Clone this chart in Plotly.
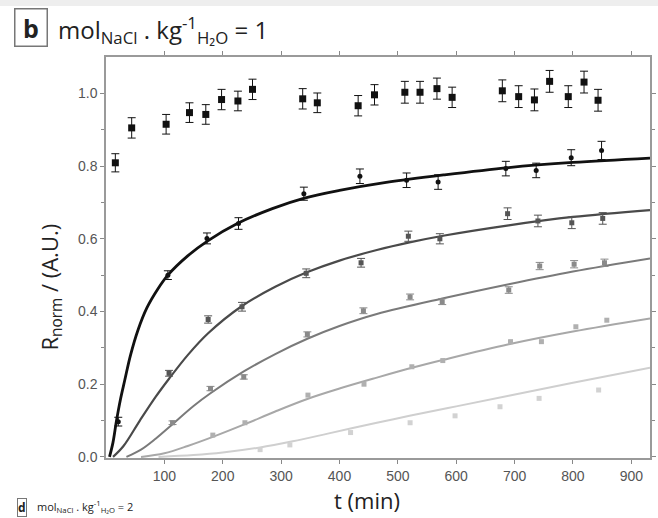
import plotly.graph_objects as go

# ---- data ----
t1 = [16, 44, 103, 143, 171, 198, 226, 251, 337, 362, 432, 460, 512, 538, 567, 593, 679, 707, 734, 760, 792, 819, 843]
v1 = [0.809, 0.905, 0.915, 0.947, 0.942, 0.983, 0.979, 1.011, 0.985, 0.974, 0.966, 0.996, 1.003, 1.003, 1.013, 0.989, 1.007, 0.991, 0.982, 1.033, 0.991, 1.031, 0.981]
e1 = [0.025, 0.028, 0.027, 0.027, 0.027, 0.028, 0.027, 0.028, 0.028, 0.027, 0.028, 0.028, 0.03, 0.03, 0.029, 0.028, 0.03, 0.03, 0.03, 0.03, 0.03, 0.03, 0.03]

t2 = [21, 106, 173, 227, 339, 435, 515, 569, 685, 737, 797, 849]
v2 = [0.097, 0.5, 0.601, 0.642, 0.724, 0.772, 0.761, 0.756, 0.793, 0.788, 0.823, 0.843]
e2 = [0.012, 0.012, 0.015, 0.016, 0.018, 0.02, 0.02, 0.02, 0.02, 0.02, 0.022, 0.025]

t3 = [108, 175, 233, 343, 437, 518, 572, 688, 740, 798, 851]
v3 = [0.23, 0.378, 0.413, 0.505, 0.534, 0.607, 0.6, 0.669, 0.649, 0.644, 0.656]
e3 = [0.008, 0.01, 0.012, 0.012, 0.012, 0.014, 0.014, 0.016, 0.016, 0.016, 0.016]

t4 = [114, 179, 236, 345, 441, 521, 576, 690, 743, 802, 854]
v4 = [0.094, 0.188, 0.22, 0.337, 0.402, 0.44, 0.427, 0.459, 0.525, 0.53, 0.534]
e4 = [0.005, 0.006, 0.006, 0.007, 0.008, 0.008, 0.008, 0.009, 0.01, 0.01, 0.01]

t5 = [183, 238, 346, 442, 524, 577, 693, 746, 805, 858]
v5 = [0.06, 0.094, 0.17, 0.2, 0.248, 0.265, 0.317, 0.317, 0.358, 0.376]

t6 = [264, 315, 419, 521, 598, 675, 742, 844]
v6 = [0.02, 0.033, 0.067, 0.094, 0.113, 0.138, 0.161, 0.184]

# fitted curves
c2t = [6, 12, 18, 25, 32, 42, 55, 70, 88, 106, 140, 175, 225, 285, 340, 400, 480, 580, 690, 800, 932]
c2v = [0, 0.04, 0.1, 0.16, 0.21, 0.28, 0.35, 0.41, 0.46, 0.5, 0.553, 0.595, 0.642, 0.683, 0.712, 0.733, 0.755, 0.776, 0.796, 0.81, 0.822]
c3t = [12, 30, 58, 85, 108, 140, 175, 233, 290, 343, 400, 464, 520, 580, 690, 800, 932]
c3v = [0, 0.03, 0.10, 0.165, 0.215, 0.28, 0.34, 0.415, 0.468, 0.507, 0.54, 0.569, 0.59, 0.609, 0.637, 0.66, 0.679]
c4t = [35, 60, 85, 114, 150, 179, 236, 290, 345, 400, 464, 580, 690, 800, 932]
c4v = [0, 0.02, 0.05, 0.09, 0.14, 0.175, 0.235, 0.283, 0.325, 0.36, 0.393, 0.437, 0.475, 0.51, 0.546]
c5t = [60, 100, 140, 183, 238, 290, 346, 400, 464, 524, 580, 690, 800, 932]
c5v = [0, 0.01, 0.03, 0.055, 0.09, 0.125, 0.16, 0.188, 0.218, 0.245, 0.268, 0.31, 0.345, 0.381]
c6t = [90, 150, 200, 264, 320, 380, 464, 520, 600, 690, 800, 932]
c6v = [0, 0.005, 0.012, 0.026, 0.043, 0.064, 0.094, 0.113, 0.139, 0.168, 0.204, 0.245]

xticks = [100, 200, 300, 400, 500, 600, 700, 800, 900]
yticks = [0.0, 0.2, 0.4, 0.6, 0.8, 1.0]

# ---- figure ----
fig = go.Figure()

curves = [(c6t, c6v, "#cfcfcf", 2), (c5t, c5v, "#a8a8a8", 2), (c4t, c4v, "#7a7a7a", 2),
          (c3t, c3v, "#4a4a4a", 2.2), (c2t, c2v, "#111111", 2.8)]
for ct, cv, col, w in curves:
    fig.add_trace(go.Scatter(x=ct, y=cv, mode="lines", line=dict(color=col, width=w, shape="spline", smoothing=1.0),
                             showlegend=False, hoverinfo="skip"))

def pts(t, v, col, size, sym, err=None):
    kw = {}
    if err is not None:
        kw["error_y"] = dict(type="data", array=err, visible=True, color=col, thickness=1, width=4)
    fig.add_trace(go.Scatter(x=t, y=v, mode="markers", marker=dict(color=col, size=size, symbol=sym),
                             showlegend=False, **kw))

pts(t6, v6, "#d2d2d2", 5, "square")
pts(t5, v5, "#b0b0b0", 5, "square")
pts(t4, v4, "#8a8a8a", 5, "square", e4)
pts(t3, v3, "#555555", 5, "square", e3)
pts(t2, v2, "#111111", 5, "circle", e2)
pts(t1, v1, "#111111", 7, "square", e1)

axis_common = dict(showline=True, linecolor="#9a9a9a", linewidth=1.5, mirror="ticks", ticks="outside",
                   ticklen=4, tickcolor="#888", showgrid=False, zeroline=False,
                   tickfont=dict(family="Liberation Sans", size=14, color="#555"))

fig.update_xaxes(range=[0, 932], tickvals=xticks, ticktext=[str(v) for v in xticks], **axis_common)
fig.update_yaxes(range=[-0.003, 1.1], tickvals=yticks, ticktext=["%.1f" % v for v in yticks],
                 minor=dict(tickvals=[0.1, 0.3, 0.5, 0.7, 0.9], ticks="outside", ticklen=3, tickcolor="#888"),
                 **axis_common)

L, T, W, H = 106, 57, 550, 401
def px(x):
    return (x - L) / W
def py(y):
    return (T + H - y) / H

NB = "\u00a0"
anns = [
    dict(text=NB + "<b>b</b>" + NB, x=px(13), y=py(28), xanchor="left", yanchor="middle",
         font=dict(family="Open Sans", size=25, color="#222"), bordercolor="#777", borderwidth=1.5, borderpad=1),
    dict(text="mol<sub>NaCl</sub>" + NB + "." + NB + "kg<sup>-1</sup><sub>H₂O</sub>" + NB + "=" + NB + "1",
         x=px(55), y=py(30), xanchor="left", yanchor="middle",
         font=dict(family="Open Sans", size=24, color="#222")),
    dict(text="<b>d</b>", x=px(16), y=py(517), xanchor="left", yanchor="bottom",
         font=dict(family="Open Sans", size=12, color="#222"), bordercolor="#777", borderwidth=1, borderpad=0),
    dict(text="mol<sub>NaCl</sub> . kg<sup>-1</sup><sub>H₂O</sub> = 2", x=px(34), y=py(517), xanchor="left", yanchor="bottom",
         font=dict(family="Open Sans", size=11, color="#222")),
    dict(text="t (min)", x=px(370), y=py(500), xanchor="center", yanchor="middle",
         font=dict(family="Open Sans", size=22, color="#222")),
    dict(text="R<sub>norm</sub> / (A.U.)", x=px(50), y=py(287), xanchor="center", yanchor="middle", textangle=-90,
         font=dict(family="Open Sans", size=22, color="#222")),
]
for a in anns:
    a.update(xref="paper", yref="paper", showarrow=False)
fig.update_layout(annotations=anns)

fig.add_shape(type="rect", xref="paper", yref="paper", x0=px(-5), x1=px(700), y0=py(6), y1=py(-2),
              fillcolor="#eeeeee", line=dict(width=0), layer="below")

fig.update_layout(width=658, height=518, margin=dict(l=L, r=658 - L - W, t=T, b=518 - T - H),
                  plot_bgcolor="white", paper_bgcolor="white", showlegend=False)

fig.write_html("out.html", config={"displayModeBar": False},
               post_script="document.body.style.margin='0';document.body.style.overflow='hidden';")
